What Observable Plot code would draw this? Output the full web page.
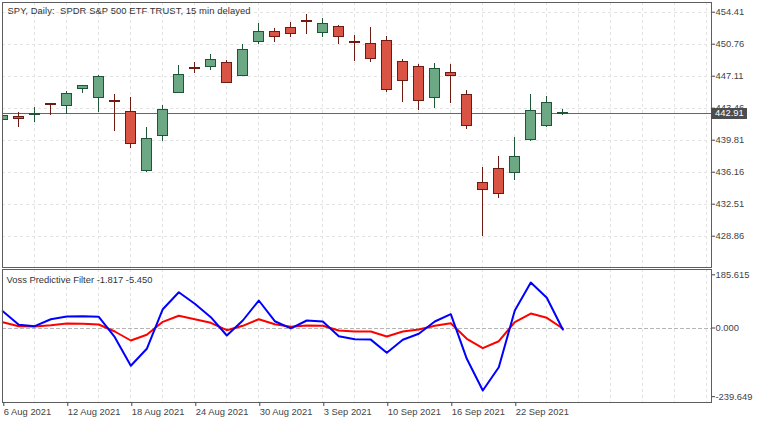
<!DOCTYPE html>
<html><head><meta charset="utf-8">
<script src="https://cdn.jsdelivr.net/npm/d3@7"></script>
<script src="https://cdn.jsdelivr.net/npm/@observablehq/plot@0.6"></script>
<style>
html,body{margin:0;padding:0;background:#fff;}
#wrap{position:relative;width:758px;height:423px;overflow:hidden;}
#wrap svg{position:absolute;left:0;display:block;}
svg text{white-space:pre;}
</style></head><body><div id="wrap"></div>
<script>
// ---- data ----
const dates = ["2021-08-06","2021-08-09","2021-08-10","2021-08-11","2021-08-12","2021-08-13","2021-08-16","2021-08-17","2021-08-18","2021-08-19","2021-08-20","2021-08-23","2021-08-24","2021-08-25","2021-08-26","2021-08-27","2021-08-30","2021-08-31","2021-09-01","2021-09-02","2021-09-03","2021-09-07","2021-09-08","2021-09-09","2021-09-10","2021-09-13","2021-09-14","2021-09-15","2021-09-16","2021-09-17","2021-09-20","2021-09-21","2021-09-22","2021-09-23","2021-09-24","2021-09-27"];
const open  = [442.11,442.48,442.71,443.90,443.73,445.67,444.65,444.30,443.05,436.32,440.31,445.22,448.05,448.18,448.64,447.11,450.99,452.17,452.63,453.42,452.01,452.74,450.98,450.81,451.15,448.75,448.18,444.60,447.42,444.99,434.95,436.55,436.09,439.86,441.41,442.80];
const high  = [442.63,442.94,443.54,444.03,445.36,446.03,447.19,444.99,444.68,441.26,443.77,448.33,448.67,449.59,448.90,450.73,453.12,452.52,453.24,454.11,453.66,452.89,451.75,452.66,451.64,448.98,448.44,448.56,448.44,445.44,436.70,437.95,440.12,445.02,444.79,443.31];
const low   = [442.06,441.29,441.86,442.66,442.71,445.10,442.94,440.84,438.90,436.16,439.70,445.20,447.45,447.79,446.24,447.11,450.76,450.99,451.56,451.90,451.56,450.76,448.82,448.71,445.28,444.14,443.23,443.46,444.03,441.06,428.86,433.13,435.18,439.63,441.22,442.66];
const close = [442.57,442.21,442.80,443.80,445.10,446.01,447.04,444.20,439.40,439.97,443.28,447.27,447.95,448.98,446.31,450.12,452.17,451.56,451.90,453.30,453.09,451.56,450.88,449.09,445.51,446.54,444.26,447.95,447.11,441.41,434.15,433.70,437.92,443.16,444.08,442.91];
const vossFilter  = [20.2,6.3,5.2,9.8,15.7,14.7,12.2,-12.2,-43.6,-23.7,21.6,42.6,30.7,18.1,-7.7,7.7,30.7,13.3,4.2,8.7,7.7,-8.7,-12.2,-12.2,-29.7,-12.2,-5.2,7.7,16.8,-37.7,-70.5,-46.1,20.2,50.6,35.6,-1.817];
const vossPredict = [58.6,11.2,6.3,30.7,40.1,41.2,39.1,-32.1,-131.9,-72.6,65.6,124.9,84.5,37.7,-26.2,26.2,96.0,23.7,-1.5,26.2,22.7,-28.6,-39.1,-40.5,-86.6,-41.2,-20.2,22.7,48.2,-107.5,-218.1,-136.8,61.1,158.8,105.4,-5.450];
const priceTicks = [454.41,450.76,447.11,443.46,439.81,436.16,432.51,428.86];
const vossTicks = [185.615,0,-239.649];
const xTickIndex = [0,4,8,12,16,20,24,28,32];
const xTickLabels = ["6 Aug 2021","12 Aug 2021","18 Aug 2021","24 Aug 2021","30 Aug 2021","3 Sep 2021","10 Sep 2021","16 Sep 2021","22 Sep 2021"];
const titleText = "SPY, Daily:  SPDR S&P 500 ETF TRUST, 15 min delayed";
const vossLabel = "Voss Predictive Filter -1.817 -5.450";
const lastPrice = 442.91;

// ---- styles ----
const FONT = "'Liberation Sans', Arial, sans-serif";
const GREEN_FILL = "#6ca883", GREEN_LINE = "#1d5636";
const RED_FILL = "#da5445", RED_LINE = "#6e1b14";
const GRID = "#e3e3e3", FRAME = "#5e5e5e", TXT = "#444";

const bars = dates.map((d, i) => ({i, o: open[i], h: high[i], l: low[i], c: close[i], up: close[i] >= open[i]}));
const gridX = d3.range(2, 45, 2);
const xDomain = [-0.3 / 16, (711 - 2.3) / 16];
const wrap = document.getElementById("wrap");
const baseStyle = {fontFamily: FONT, fontSize: "9.4px", background: "transparent", overflow: "visible", color: TXT};

// ---- upper: candles ----
const priceChart = Plot.plot({
  width: 758, height: 268,
  marginLeft: 2, marginRight: 47, marginTop: 2, marginBottom: 1,
  style: baseStyle,
  x: {type: "linear", domain: xDomain, axis: null},
  y: {domain: [425.289, 455.516], axis: null},
  color: {type: "identity"},
  marks: [
    Plot.ruleY(priceTicks, {stroke: GRID, strokeDasharray: "3,3", shapeRendering: "crispEdges"}),
    Plot.ruleX(gridX, {stroke: GRID, strokeDasharray: "3,3", shapeRendering: "crispEdges"}),
    Plot.ruleY([lastPrice], {stroke: "#666", shapeRendering: "crispEdges"}),
    Plot.ruleX(bars, {x: "i", y1: "l", y2: "h", stroke: d => d.up ? GREEN_LINE : RED_LINE, shapeRendering: "crispEdges", clip: true}),
    Plot.rect(bars, {x1: d => d.i - 5/16, x2: d => d.i + 5/16, y1: d => Math.min(d.o, d.c), y2: d => Math.max(d.o, d.c),
      fill: d => d.up ? GREEN_FILL : RED_FILL, stroke: d => d.up ? GREEN_LINE : RED_LINE, shapeRendering: "crispEdges", clip: true}),
    Plot.frame({stroke: FRAME, shapeRendering: "crispEdges"}),
    Plot.axisY(priceTicks, {anchor: "right", label: null, tickSize: 3, tickPadding: 1, tickFormat: d => d.toFixed(2), color: TXT}),
    Plot.text([titleText], {frameAnchor: "top-left", dx: 5, dy: 8, textAnchor: "start", lineAnchor: "middle", fill: "#333", className: "title-text"})
  ]
});
priceChart.style.top = "0px";
wrap.appendChild(priceChart);
{
  const yPx = priceChart.scale("y").apply(lastPrice);
  const svg = d3.select(priceChart);
  svg.append("rect").attr("x", 711).attr("y", Math.round(yPx) - 5).attr("width", 36).attr("height", 11).attr("fill", "#4d4d4d");
  svg.append("text").attr("x", 715).attr("y", yPx + 0.5).attr("dy", "0.35em").attr("fill", "#fff")
    .attr("text-anchor", "start").attr("font-family", FONT).attr("font-size", "9.4px").text(lastPrice.toFixed(2));
  svg.selectAll(".title-text text").attr("textLength", 243).attr("lengthAdjust", "spacing");
}

// ---- lower: Voss predictive filter ----
const filterPts = vossFilter.map((v, i) => ({i, v}));
const predictPts = vossPredict.map((v, i) => ({i, v}));
const vossChart = Plot.plot({
  width: 758, height: 155,
  marginLeft: 2, marginRight: 47, marginTop: 1, marginBottom: 21,
  style: baseStyle,
  x: {type: "linear", domain: xDomain, axis: null, label: null},
  y: {domain: [-260.0, 204.2], axis: null, label: null},
  marks: [
    Plot.ruleX(gridX, {stroke: GRID, strokeDasharray: "3,3", shapeRendering: "crispEdges"}),
    Plot.ruleY([0], {stroke: "#b5b5b5", strokeDasharray: "4,2", shapeRendering: "crispEdges"}),
    Plot.line(filterPts, {x: "i", y: "v", stroke: "#ff0000", strokeWidth: 2}),
    Plot.line(predictPts, {x: "i", y: "v", stroke: "#0000ff", strokeWidth: 2}),
    Plot.frame({stroke: FRAME, shapeRendering: "crispEdges"}),
    Plot.axisY(vossTicks, {anchor: "right", label: null, tickSize: 3, tickPadding: 1, tickFormat: d => d.toFixed(3), color: TXT}),
    Plot.axisX(xTickIndex, {anchor: "bottom", label: null, tickSize: 4, tickPadding: 2, textAnchor: "start", dx: 1,
      tickFormat: d => xTickLabels[xTickIndex.indexOf(d)], color: TXT}),
    Plot.text([vossLabel], {frameAnchor: "top-left", dx: 4, dy: 10, textAnchor: "start", lineAnchor: "middle", fill: "#333"})
  ]
});
vossChart.style.top = "268px";
wrap.appendChild(vossChart);
</script>
</body></html>
